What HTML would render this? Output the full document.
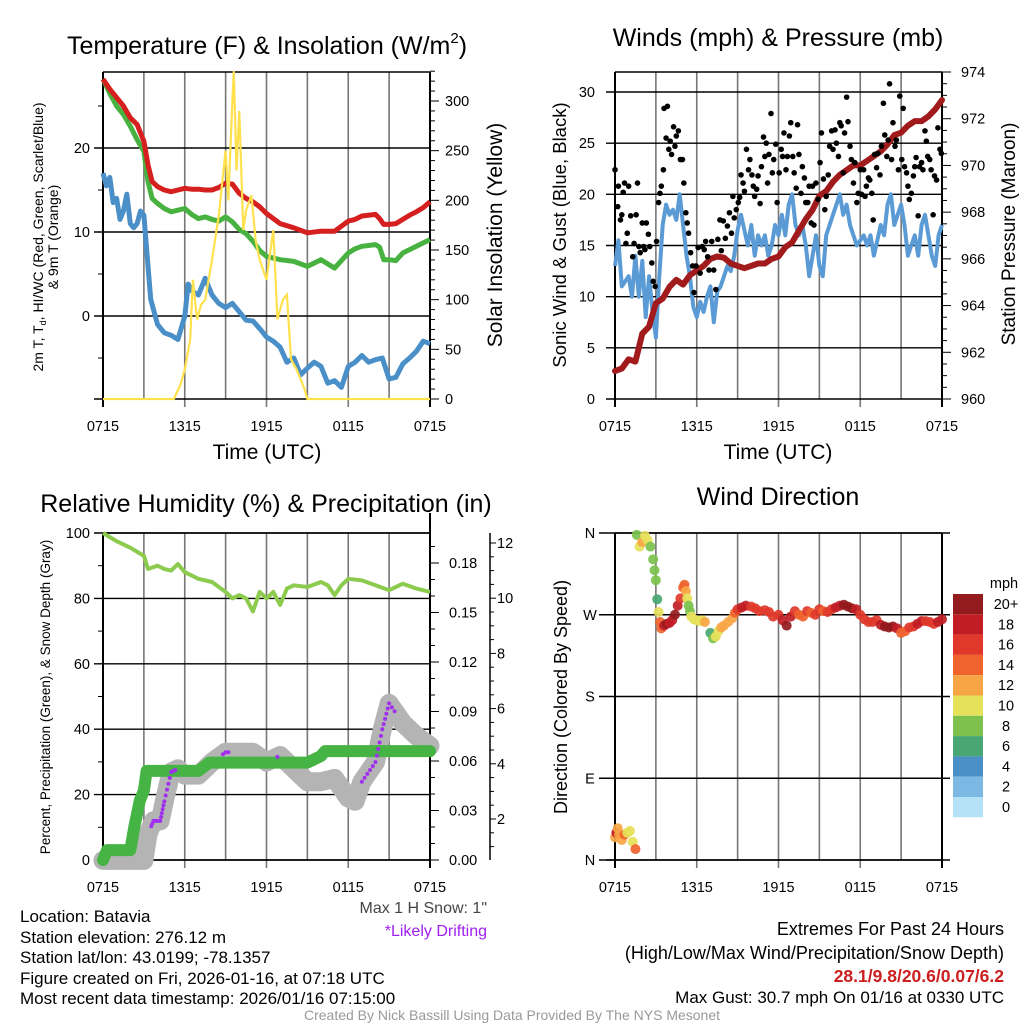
<!DOCTYPE html>
<html><head><meta charset="utf-8"><style>
html,body{margin:0;padding:0;background:#fff;}
svg{display:block;font-family:"Liberation Sans",Arial,sans-serif;}
</style></head><body>
<svg id="chart" width="1024" height="1024" viewBox="0 0 1024 1024" xmlns="http://www.w3.org/2000/svg">
<rect width="1024" height="1024" fill="#fff"/>
<!-- titles -->
<text x="267" y="54" font-size="25" text-anchor="middle">Temperature (F) &amp; Insolation (W/m<tspan font-size="15" dy="-11">2</tspan><tspan dy="11">)</tspan></text>
<text x="778" y="46" font-size="25" text-anchor="middle">Winds (mph) &amp; Pressure (mb)</text>
<text x="266" y="512" font-size="25" text-anchor="middle">Relative Humidity (%) &amp; Precipitation (in)</text>
<text x="778" y="505" font-size="25" text-anchor="middle">Wind Direction</text>
<!-- axis titles -->
<text x="267" y="459" font-size="21" text-anchor="middle">Time (UTC)</text>
<text x="778" y="459" font-size="21" text-anchor="middle">Time (UTC)</text>
<text transform="translate(43,237) rotate(-90)" font-size="14" text-anchor="middle">2m T, T<tspan font-size="9" dy="3">d</tspan><tspan dy="-3">, HI/WC (Red, Green, Scarlet/Blue)</tspan></text>
<text transform="translate(58,237) rotate(-90)" font-size="14" text-anchor="middle">&amp; 9m T (Orange)</text>
<text transform="translate(502,235) rotate(-90)" font-size="21" text-anchor="middle">Solar Insolation (Yellow)</text>
<text transform="translate(566,235) rotate(-90)" font-size="18.5" text-anchor="middle">Sonic Wind &amp; Gust (Blue, Black)</text>
<text transform="translate(1015,234) rotate(-90)" font-size="19" text-anchor="middle">Station Pressure (Maroon)</text>
<text transform="translate(50,697) rotate(-90)" font-size="13.5" text-anchor="middle">Percent, Precipitation (Green), &amp; Snow Depth (Gray)</text>
<text transform="translate(567,697) rotate(-90)" font-size="18" text-anchor="middle">Direction (Colored By Speed)</text>
<!-- info text -->
<g font-size="17" fill="#000">
<text x="20" y="922">Location: Batavia</text>
<text x="20" y="943">Station elevation: 276.12 m</text>
<text x="20" y="963">Station lat/lon: 43.0199; -78.1357</text>
<text x="20" y="984">Figure created on Fri, 2026-01-16, at 07:18 UTC</text>
<text x="20" y="1004">Most recent data timestamp: 2026/01/16 07:15:00</text>
<text x="487" y="913" text-anchor="end" fill="#444" font-size="16">Max 1 H Snow: 1"</text>
<text x="487" y="936" text-anchor="end" fill="#a020f0" font-size="16">*Likely Drifting</text>
<text x="1004" y="935" text-anchor="end" font-size="18">Extremes For Past 24 Hours</text>
<text x="1004" y="959" text-anchor="end" font-size="18">(High/Low/Max Wind/Precipitation/Snow Depth)</text>
<text x="1004" y="982" text-anchor="end" fill="#cc2020" font-weight="bold" font-size="17.5">28.1/9.8/20.6/0.07/6.2</text>
<text x="1004" y="1003" text-anchor="end">Max Gust: 30.7 mph On 01/16 at 0330 UTC</text>
</g>
<text x="512" y="1020" font-size="14" text-anchor="middle" fill="#999">Created By Nick Bassill Using Data Provided By The NYS Mesonet</text>
</svg>
<script>
// ===== Panel 1 data =====
const tHours=[0,0.5,1,1.5,2,2.5,3,3.3,3.6,4,4.5,5,5.5,6,6.5,7,7.5,8,8.5,9,9.5,10,10.5,11,11.5,12,13,14,15,16,17,18,18.5,19,20,20.3,20.6,21,21.5,22,22.5,23,23.5,24];
const tempVals=[28.2,27,26,25,23.6,22.8,20.8,18,16,15.4,15,14.8,15,15.2,15.1,15.1,15,15,15.3,15.8,15.7,14.6,14,13.6,13,12.2,11,10.5,9.9,10.1,10.1,11.3,11.5,11.9,12.1,11.6,10.9,10.9,11,11.5,12,12.4,12.9,13.6];
const hiwcVals=[28.2,26.5,25,24,22.6,21,19.6,16,14,13.4,12.8,12.4,12.6,12.8,12.1,11.6,11.8,11.5,11.3,11.8,11.2,10.3,9.8,8.9,7.8,7.1,6.7,6.5,5.9,6.7,5.7,7.5,8,8.3,8.5,8.2,6.7,6.7,6.6,7.5,7.9,8.3,8.7,9.1];
const dewHours=[0,0.25,0.5,0.75,1,1.25,1.5,1.75,2,2.25,2.5,2.75,3,3.2,3.5,4,4.5,5,5.5,6,6.25,6.5,7,7.5,8,8.5,9,9.5,10,10.5,11,11.5,12,12.5,13,13.5,14,14.5,15,15.5,16,16.5,17,17.5,18,18.5,19,19.5,20,20.5,21,21.5,22,22.5,23,23.5,24];
const dewVals=[17,15.5,16.5,13.5,14,11.5,12.5,14.5,11,10.5,11,12.5,12,8,2,-1,-2,-2.3,-2.8,0,3.8,3,2.5,4.5,2.5,1.5,1,1.5,0.5,-0.5,-0.6,-1.5,-2.5,-3,-3.7,-5.5,-5,-7,-6.2,-5.5,-6,-8,-7.7,-8.5,-6,-5.5,-4.7,-5.5,-5.2,-5,-7.5,-7.3,-5.7,-5,-4.2,-3,-3.3];
const solHours=[0,5.2,5.7,6,6.4,6.6,6.9,7.2,7.5,8,8.5,9,9.2,9.5,9.6,9.8,10,10.3,10.5,10.9,11.2,11.5,12,12.5,12.8,13.2,13.5,13.8,14.2,14.8,15,24];
const solVals=[0,0,15,30,60,120,80,95,100,140,185,250,200,300,330,230,290,170,190,205,160,140,120,170,80,100,105,40,30,10,0,0];
// ===== Panel 2 data =====
const presHours=[0,0.5,1,1.5,2,2.5,3,3.5,4,4.5,5,5.5,6,6.5,7,7.5,8,8.5,9,9.5,10,10.5,11,11.5,12,12.5,13,13.5,14,14.5,15,15.5,16,16.5,17,17.5,18,18.5,19,19.5,20,20.5,21,21.5,22,22.5,23,23.5,24];
const presVals=[961.2,961.3,961.7,961.6,962.8,963.1,964.1,964.3,964.8,965.1,964.9,965.3,965.5,965.7,966.0,966.1,966.05,965.8,965.7,965.6,965.7,965.8,965.8,966.0,966.1,966.5,966.7,967.2,967.7,968.1,968.7,968.9,969.3,969.6,969.8,970.0,970.0,970.2,970.4,970.6,970.9,971.3,971.4,971.7,971.9,971.9,972.1,972.4,972.8];
const windVals=[13,15.5,11,11.5,12,10,14,10,13.5,8,12,8.5,6,12,17,19,18,18.5,17.5,20,17,14,12,9,8,9.5,8.5,10,11,7.5,10.5,11,12,13,12.5,14,16.5,18,16.5,15,17,14,16,15,16,14,15,17,16,18,16,19,20,17,16,17,15,12,14,16,13,12,16,17,18,19,20,18,19,17,16,15,15.5,16,15,16,14,15.5,17,16,19,20,17,18,19,17,14,15,16,14,17,18,16,14,13,16,17];
const gustHours=[0,0.2,0.25,0.4,0.5,0.6,0.7,0.8,0.9,1.0,1.15,1.3,1.4,1.55,1.65,1.75,1.85,2.0,2.1,2.2,2.3,2.45,2.55,2.7,2.8,2.95,3.05,3.2,3.3,3.4,3.55,3.6,3.75,3.85,3.95,4.05,4.15,4.3,4.4,4.5,4.65,4.8,4.95,5.05,5.2,5.3,5.4,5.55,5.7,5.8,5.95,6.1,6.25,6.4,6.55,6.65,6.8,6.9,7.1,7.25,7.4,7.55,7.7,7.8,7.95,8.1,8.25,8.4,8.55,8.65,8.75,8.9,9.05,9.15,9.25,9.4,9.5,9.65,9.8,9.9,10.05,10.15,10.25,10.4,10.5,10.65,10.75,10.9,11.0,11.1,11.2,11.3,11.45,11.55,11.65,11.8,11.9,12.05,12.2,12.3,12.4,12.55,12.65,12.8,12.9,13.05,13.15,13.3,13.4,13.5,13.65,13.75,13.9,14.0,14.15,14.25,14.4,14.5,14.6,14.75,14.9,15.05,15.15,15.3,15.4,15.5,15.65,15.75,15.9,16.0,16.15,16.25,16.4,16.5,16.6,16.75,16.85,17.0,17.1,17.25,17.35,17.5,17.6,17.75,17.85,18.0,18.1,18.25,18.35,18.45,18.6,18.7,18.85,18.95,19.05,19.2,19.3,19.45,19.55,19.7,19.8,19.95,20.05,20.15,20.3,20.4,20.55,20.65,20.8,20.9,21.05,21.15,21.25,21.4,21.5,21.6,21.75,21.9,22.0,22.1,22.25,22.35,22.5,22.6,22.75,22.85,22.95,23.1,23.2,23.35,23.45,23.6,23.7,23.85,23.95];
const gustVals=[22.4,18.8,20.8,17.5,18,20.2,21.1,15.2,16.2,20.8,17.9,13.9,15.2,18,21.1,14.9,14.3,17.2,14.9,14.6,17.2,16.1,14.9,13.3,11.5,11,15.4,19.2,20.1,20.8,22.4,28.4,25.5,28.6,24.4,25.2,23.9,26.6,24.7,25.7,26.2,23.4,23.4,21.1,18.2,17.2,16.2,14.3,13,10.4,13,14.8,12.3,14.9,14.6,15.4,13.9,12.6,15.4,12.6,10.7,15.6,17.5,14.5,17.4,15.7,16.9,18.2,16.2,19.8,17.7,18.5,19.2,19.7,21.9,21.1,20.3,24.4,22.4,23.4,21.9,20.8,19.8,20.5,21.8,19.1,22.7,25.6,23.7,25,21.1,23.9,27.9,22.1,23.4,24.9,19.2,22.1,24.4,23.7,26,22.4,23.7,25.7,27,23.7,22.1,20.6,26.8,23.9,20.1,22.7,21.6,19.2,19.2,20.8,17.2,20.8,17,21.1,19.5,23.1,26,21.5,18.5,19.8,21.9,24.7,26.2,24.4,26.3,25,23.7,27,26.7,22.1,26,29.5,27.1,24.7,23.4,21.1,23.1,19.2,20.1,22.4,20,22.4,19.8,20.8,21.6,21.4,20.1,17.5,23.9,22.6,24,21.9,24.7,28.9,25.8,23.7,25.3,30.8,23.4,27,24.7,25.3,22.4,29.6,23.4,28.4,22.7,22.1,20.8,19.5,20.1,21.8,22.7,23.6,17.9,22.7,23.1,22.4,26.2,25.2,23.7,23.4,22.4,18,21.8,21.4,26.5,24.4,24];
// ===== Panel 3 data =====
const rhHours=[0,1,2,3,3.3,4,4.5,5,5.5,6,7,8,9,9.5,10,10.5,11,11.5,12,12.5,13,13.5,14,15,16,16.5,17,17.5,18,19,20,21,22,23,24];
const rhVals=[100,97.5,95.5,93,89,90,89,88.5,90.5,88,86,85,82,80,81,80,76,82,80,82,78,83,84,83.5,85,84,81,84,86,85.5,84,82.5,84.5,83,82];
const precipHours=[0,0.3,2,2.3,2.7,3,3.2,5,7,7.8,9,15,16,16.3,24];
const precipVals=[0,0.006,0.006,0.02,0.036,0.042,0.054,0.054,0.054,0.059,0.059,0.059,0.063,0.066,0.066];
const snowHours=[0,2,3,3.3,3.7,4.2,4.5,5,5.5,6,7,8,9,10,11,12,13,14,15,16,17,18,18.5,19,20,20.5,21,22,23,24];
const snowVals=[0.5,0.5,0.5,1.45,1.93,1.93,2.64,3.7,3.82,3.59,3.59,4.06,4.42,4.42,4.42,4.06,4.3,3.82,3.35,3.35,3.47,2.76,2.64,3.35,4.06,5.25,6.19,5.48,5.01,4.65];
const driftStarts=[3.5,8.8,12.7,19.0];
const driftEnds=[5.3,9.3,12.9,21.5];
// ===== Panel 4 data =====
const dirHours=[0,0.1,0.2,0.3,0.5,0.7,0.9,1.1,1.3,1.5,1.6,1.8,2.0,2.2,2.4,2.6,2.8,2.9,3.0,3.1,3.2,3.3,3.4,3.6,3.8,4.0,4.2,4.4,4.6,4.8,5.0,5.1,5.2,5.3,5.4,5.5,5.6,5.8,6.0,6.2,6.4,6.6,7.0,7.2,7.4,7.6,7.8,8.0,8.3,8.6,8.8,9.0,9.3,9.6,10.0,10.3,10.6,11.0,11.3,11.6,12.0,12.3,12.6,12.9,13.2,13.5,13.8,14.1,14.4,14.7,15.0,15.3,15.6,15.9,16.2,16.5,16.8,17.1,17.4,17.7,18.0,18.3,18.6,18.9,19.2,19.5,19.8,20.1,20.4,20.7,21.0,21.3,21.6,21.9,22.2,22.5,22.8,23.1,23.4,23.7,24.0];
const dirVals=[25,30,35,28,22,28,30,32,20,12,358,345,350,357,352,345,331,319,308,287,273,262,255,258,260,261,264,270,280,288,300,303,296,288,280,274,268,265,264,263,264,262,250,244,246,252,256,258,262,266,272,276,278,280,279,277,274,275,273,268,270,264,258,268,274,270,268,274,272,270,276,274,273,276,278,280,281,279,277,276,270,265,262,262,264,259,257,256,257,255,250,252,256,257,260,263,263,262,260,262,265];
const dirSpeeds=[12,18,13,12,12,14,10,10,10,14,8,10,12,10,10,8,8,8,8,6,10,14,14,18,20,18,18,20,18,16,14,14,12,10,8,8,10,10,10,10,10,12,6,8,10,10,12,12,12,12,14,16,18,18,16,16,16,16,16,16,16,18,20,18,16,14,14,16,14,16,16,14,16,16,18,18,20,20,20,18,16,16,16,16,16,18,20,20,20,18,14,14,16,16,18,18,16,16,16,18,18];
const speedBins=[0,2,4,6,8,10,12,14,16,18,20];
const speedLabels=["0","2","4","6","8","10","12","14","16","18","20+"];
const speedColors=["#b5e2f7","#7bb8e4","#4a8fc6","#48a772","#7cc24d","#e6e15a","#f7a645","#f0632c","#e0392b","#c01d25","#931a1d"];
const xTickLabels=["0715","1315","1915","0115","0715"];

// ===== helpers =====
const NS='http://www.w3.org/2000/svg';
const svg=document.getElementById('chart');
function mk(tag,attrs,parent){const e=document.createElementNS(NS,tag);for(const k in attrs)e.setAttribute(k,attrs[k]);(parent||svg).appendChild(e);return e;}
function lin(d0,d1,r0,r1){return v=>r0+(v-d0)*(r1-r0)/(d1-d0);}
function pathD(xs,ys,fx,fy){return xs.map((h,i)=>(i?'L':'M')+fx(h).toFixed(1)+','+fy(ys[i]).toFixed(1)).join('');}
function grp(name){const g=mk('g',{});


return g;}

function frame(name,x0,x1,y0,y1){
  const g=grp(name+'-frame');
  const fx=lin(0,24,x0,x1);
  for(let h=0;h<=24;h+=3){
    const l=mk('line',{x1:fx(h),x2:fx(h),y1:y0,y2:y1+(h%6==0?8:0),stroke:(h==0||h==24)?'#000':'#777',"stroke-width":(h==0||h==24)?2:1.6},g);
    
    
    if(h%6==0){
      const t=mk('text',{x:fx(h),y:y1+32,"font-size":14.5,"text-anchor":"middle"},g);
      
      
      t.textContent=xTickLabels[h/6];
    }
  }
  const top=mk('line',{x1:x0,x2:x1,y1:y0,y2:y0,stroke:'#000',"stroke-width":1.6},g);
  
  
  const bot=mk('line',{x1:x0-9,x2:x1,y1:y1,y2:y1,stroke:'#000',"stroke-width":1.6},g);
  
  
  return fx;
}
function hline(g,x0,x1,y,name,ext){
  const l=mk('line',{x1:x0-(ext||9),x2:x1,y1:y,y2:y,stroke:'#000',"stroke-width":1.4},g);
  
  
}
function label(g,x,y,txt,anchor,name,size){
  const t=mk('text',{x:x,y:y+5,"font-size":size||14.5,"text-anchor":anchor},g);
  
  
  t.textContent=txt;
}
function tick(g,x,y,len,name){
  const l=mk('line',{x1:x,x2:x+len,y1:y,y2:y,stroke:'#000',"stroke-width":1},g);
  
  
}

// ===== Panel 1 =====
(function(){
  const X0=103,X1=430,Y0=72,Y1=399;
  const fx=frame('temp-panel',X0,X1,Y0,Y1);
  const fyT=lin(0,20,316,148), fyS=lin(0,300,399,101);
  const g=grp('temp-axes');
  [0,10,20].forEach(v=>{hline(g,X0,X1,fyT(v),'temp-gridline');label(g,X0-13,fyT(v),String(v),'end','temp-tick-label');});
  [-5,5,15,25].forEach(v=>tick(g,X0-5,fyT(v),5,'temp-minor-tick'));
  const ax=mk('line',{x1:X1,x2:X1,y1:Y0,y2:Y1,stroke:'#000',"stroke-width":2},g);
  
  
  const axl=mk('line',{x1:X0,x2:X0,y1:Y0,y2:Y1,stroke:'#000',"stroke-width":2},g);
  
  
  for(let v=0;v<=330;v+=10){tick(g,X1,fyS(v),v%50==0?9:5,'insolation-tick');}
  for(let v=0;v<=300;v+=50)label(g,X1+15,fyS(v),String(v),'start','insolation-tick-label');
  const s=grp('temperature-series');
  const p1=mk('path',{d:pathD(tHours,hiwcVals,fx,fyT),fill:'none',stroke:'#47b23f',"stroke-width":5,"stroke-linejoin":"round"},s);
  
  
  const p2=mk('path',{d:pathD(tHours,tempVals,fx,fyT),fill:'none',stroke:'#d61f1f',"stroke-width":5,"stroke-linejoin":"round"},s);
  
  
  const p3=mk('path',{d:pathD(dewHours,dewVals,fx,fyT),fill:'none',stroke:'#4a8fc8',"stroke-width":5,"stroke-linejoin":"round"},s);
  
  
  const p4=mk('path',{d:pathD(solHours,solVals,fx,fyS),fill:'none',stroke:'#ffe14d',"stroke-width":2.2},s);
  
  
})();

// ===== Panel 2 =====
(function(){
  const X0=615,X1=942,Y0=72,Y1=399;
  const fx=frame('wind-panel',X0,X1,Y0,Y1);
  const fyW=lin(0,30,399,92), fyP=lin(960,974,399,72);
  const g=grp('wind-axes');
  for(let v=5;v<=30;v+=5)hline(g,X0,X1,fyW(v),'wind-gridline');
  for(let v=0;v<=30;v+=5)label(g,X0-20,fyW(v),String(v),'end','wind-tick-label');
  const axl=mk('line',{x1:X0,x2:X0,y1:Y0,y2:Y1,stroke:'#000',"stroke-width":2},g);
  
  
  const ax=mk('line',{x1:X1,x2:X1,y1:Y0,y2:Y1,stroke:'#000',"stroke-width":2},g);
  
  
  for(let v=960;v<=974.01;v+=0.5)tick(g,X1,fyP(v),Math.abs(v-Math.round(v/2)*2)<0.01?9:5,'pressure-tick');
  for(let v=960;v<=974;v+=2)label(g,X1+19,fyP(v),String(v),'start','pressure-tick-label');
  const s=grp('wind-series');
  const wH=windVals.map((v,i)=>i*0.25);
  const w=mk('path',{d:pathD(wH,windVals,fx,fyW),fill:'none',stroke:'#5b9bd5',"stroke-width":4,"stroke-linejoin":"round"},s);
  
  
  const gg=grp('gust-points');
  gustHours.forEach((h,i)=>{
    const c=mk('circle',{cx:fx(h),cy:fyW(gustVals[i]),r:2.8,fill:'#000'},gg);
    
    
  });
  const p=mk('path',{d:pathD(presHours,presVals,fx,fyP),fill:'none',stroke:'#a11a1c',"stroke-width":6,"stroke-linejoin":"round","stroke-linecap":"round"},s);
  
  
})();

// ===== Panel 3 =====
(function(){
  const X0=103,X1=430,Y0=533,Y1=860;
  const fx=frame('rh-panel',X0,X1,Y0,Y1);
  const fyR=lin(0,100,860,533), fyPr=lin(0,0.18,860,563), fySn=lin(2,12,819,543);
  const g=grp('rh-axes');
  for(let v=0;v<=100;v+=20){hline(g,X0,X1,fyR(v),'rh-gridline');label(g,X0-13,fyR(v),String(v),'end','rh-tick-label');}
  for(let v=10;v<=90;v+=20)tick(g,X0-5,fyR(v),5,'rh-minor-tick');
  const axl=mk('line',{x1:X0,x2:X0,y1:Y0,y2:Y1,stroke:'#000',"stroke-width":2},g);
  
  
  const ax=mk('line',{x1:X1,x2:X1,y1:Y0-20,y2:Y1,stroke:'#000',"stroke-width":2},g);
  
  
  for(let k=0;k<=19;k++){const v=k*0.01;tick(g,X1,fyPr(v),k%3==0?9:5,'precip-tick');}
  for(let k=0;k<=6;k++)label(g,X1+19,fyPr(k*0.03),(k*0.03).toFixed(2),'start','precip-tick-label');
  const sa=mk('line',{x1:490,x2:490,y1:533,y2:860,stroke:'#000',"stroke-width":1.5},g);
  
  
  for(let v=1;v<=12.01;v+=0.5)tick(g,490,fySn(v),Math.abs(v%2)<0.01?6:4,'snow-tick');
  for(let v=2;v<=12;v+=2)label(g,497,fySn(v),String(v),'start','snow-tick-label');
  const s=grp('rh-series');
  const r=mk('path',{d:pathD(rhHours,rhVals,fx,fyR),fill:'none',stroke:'#8ccb4e',"stroke-width":4,"stroke-linejoin":"round"},s);
  
  
  const sn=mk('path',{d:pathD(snowHours,snowVals,fx,fySn),fill:'none',stroke:'#b4b4b4',"stroke-width":19,"stroke-linejoin":"round","stroke-linecap":"round"},s);
  
  
  const pr=mk('path',{d:pathD(precipHours,precipVals,fx,fyPr),fill:'none',stroke:'#46b445',"stroke-width":12,"stroke-linejoin":"round","stroke-linecap":"round"},s);
  
  
  const dg=grp('drifting-points');
  driftStarts.forEach((a,k)=>{
    for(let i=0;i<snowHours.length-1;i++){
      const h0=snowHours[i],h1=snowHours[i+1];
      for(let t=0;t<1;t+=0.2){
        const h=h0+(h1-h0)*t;
        if(h<a||h>driftEnds[k])continue;
        const v=snowVals[i]+(snowVals[i+1]-snowVals[i])*t;
        const c=mk('circle',{cx:fx(h),cy:fySn(v),r:2,fill:'#a030ee'},dg);
        
        
      }
    }
  });
})();

// ===== Panel 4 =====
(function(){
  const X0=615,X1=942,Y0=533,Y1=860;
  const fx=frame('winddir-panel',X0,X1,Y0,Y1);
  const fy=lin(0,360,860,533);
  const g=grp('winddir-axes');
  const names=['N','E','S','W','N'];
  [0,90,180,270,360].forEach((v,i)=>{hline(g,X0,X1+8,fy(v),'direction-gridline',16);label(g,590,fy(v),names[i],'middle','direction-tick-label');});
  const axl=mk('line',{x1:X0,x2:X0,y1:Y0,y2:Y1,stroke:'#000',"stroke-width":2},g);
  
  
  const dg=grp('direction-points');
  dirHours.forEach((h,i)=>{
    let b=0;for(let k=0;k<speedBins.length;k++)if(dirSpeeds[i]>=speedBins[k])b=k;
    const c=mk('circle',{cx:fx(h),cy:fy(dirVals[i]),r:5,fill:speedColors[b],"fill-opacity":0.92},dg);
    
    
  });
  const lg=grp('speed-colorbar');
  const ut=mk('text',{x:1004,y:588,"font-size":14.5,"text-anchor":"middle"},lg);
  
  
  ut.textContent='mph';
  const n=speedColors.length;
  for(let k=0;k<n;k++){
    const idx=n-1-k;
    const y=594+k*20.3;
    const r=mk('rect',{x:953,y:y,width:30,height:20.3,fill:speedColors[idx]},lg);
    
    
    const t=mk('text',{x:1006,y:y+15,"font-size":14.5,"text-anchor":"middle"},lg);
    
    
    t.textContent=speedLabels[idx];
  }
})();
</script>
</body></html>
